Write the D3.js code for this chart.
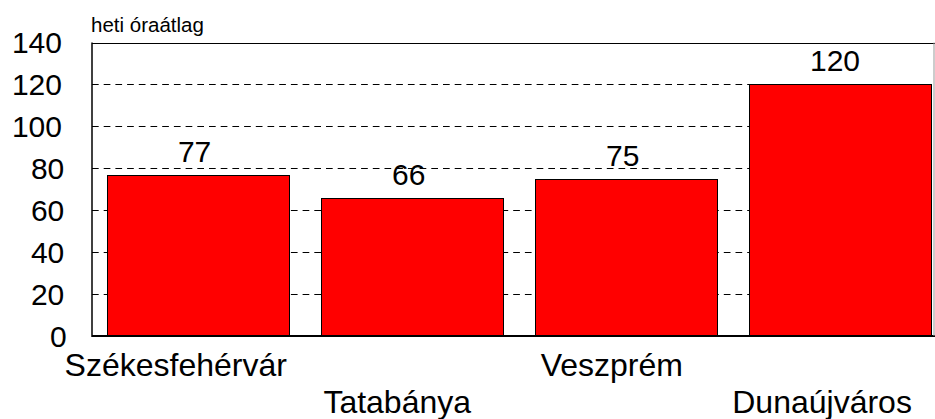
<!DOCTYPE html>
<html>
<head>
<meta charset="utf-8">
<script src="https://cdn.jsdelivr.net/npm/d3@7"></script>
<style>
  html, body { margin: 0; padding: 0; background: #fff; }
  svg { display: block; }
  text { font-family: "Liberation Sans", Arial, sans-serif; fill: #000; }
</style>
</head>
<body>
<svg id="chart" width="935" height="419"></svg>
<script>
const categories = ["Székesfehérvár", "Tatabánya", "Veszprém", "Dunaújváros"];
const values = [77, 66, 75, 120];
const yTicks = [0, 20, 40, 60, 80, 100, 120, 140];
const yTitle = "heti óraátlag";

const svg = d3.select("#chart");
const plot = { left: 92, right: 934, top: 42.5, bottom: 336 };

const y = d3.scaleLinear().domain([0, 140]).range([plot.bottom, plot.top]);
const x = d3.scaleBand().domain(categories).range([92, 946])
  .paddingInner(0.15).paddingOuter(0.07);

// gridlines
svg.append("g").selectAll("line")
  .data(yTicks.filter(d => d > 0 && d < 140))
  .join("line")
  .attr("x1", plot.left).attr("x2", plot.right)
  .attr("y1", d => Math.round(y(d)) + 0.5).attr("y2", d => Math.round(y(d)) + 0.5)
  .attr("stroke", "#000").attr("stroke-width", 1)
  .attr("stroke-dasharray", "6.7 5");

// bars
svg.append("g").selectAll("rect")
  .data(values)
  .join("rect")
  .attr("x", (d, i) => Math.round(x(categories[i])) + 0.5)
  .attr("y", d => Math.round(y(d)) + 0.5)
  .attr("width", Math.round(x.bandwidth()))
  .attr("height", d => plot.bottom - Math.round(y(d)) - 0.5)
  .attr("fill", "#ff0000")
  .attr("stroke", "#000").attr("stroke-width", 1);

// frame
svg.append("line").attr("x1", plot.left).attr("x2", 935)
  .attr("y1", Math.round(plot.top) + 0.5).attr("y2", Math.round(plot.top) + 0.5)
  .attr("stroke", "#000").attr("stroke-width", 1.2);
svg.append("line").attr("x1", plot.left).attr("x2", plot.left)
  .attr("y1", plot.top).attr("y2", plot.bottom + 1)
  .attr("stroke", "#000").attr("stroke-width", 1.5);
svg.append("line").attr("x1", plot.left).attr("x2", 935)
  .attr("y1", plot.bottom).attr("y2", plot.bottom)
  .attr("stroke", "#000").attr("stroke-width", 2);
svg.append("line").attr("x1", plot.right).attr("x2", plot.right)
  .attr("y1", plot.top).attr("y2", plot.bottom)
  .attr("stroke", "#999").attr("stroke-width", 1);

// y tick labels
const yl = svg.append("g").selectAll("text")
  .data(yTicks)
  .join("text")
  .attr("x", 69)
  .attr("y", d => y(d) + 10.7)
  .attr("text-anchor", "end")
  .attr("font-size", 30)
  .text(d => d);
yl.attr("dx", function () { return -0.14 * this.getComputedTextLength(); });

// value labels
const vl = svg.append("g").selectAll("text")
  .data(values)
  .join("text")
  .attr("x", (d, i) => x(categories[i]) + x.bandwidth() / 2)
  .attr("y", d => y(d) - 13)
  .attr("text-anchor", "middle")
  .attr("font-size", 30)
  .text(d => d);
vl.attr("dx", function () { return -0.1 * this.getComputedTextLength(); });

// category labels (staggered)
const cl = svg.append("g").selectAll("text")
  .data(categories)
  .join("text")
  .attr("x", d => x(d) + x.bandwidth() / 2)
  .attr("y", (d, i) => i % 2 === 0 ? 376 : 413)
  .attr("text-anchor", "middle")
  .attr("font-size", 32)
  .text(d => d);
cl.attr("dx", function () { return -0.1 * this.getComputedTextLength(); });

// y title
svg.append("text")
  .attr("x", 91).attr("y", 32)
  .attr("font-size", 20.5)
  .text(yTitle);
</script>
</body>
</html>
